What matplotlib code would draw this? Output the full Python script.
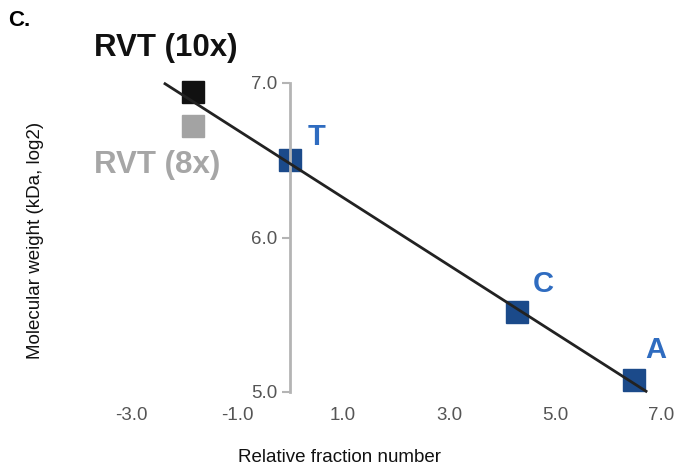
import matplotlib
matplotlib.use("Agg")
import matplotlib.pyplot as plt

plt.rcParams['font.family'] = ['Liberation Sans', 'DejaVu Sans']

# standards (blue squares)
std_names = ['T', 'C', 'A']
std_x = [0.0, 4.28, 6.49]
std_y = [6.50, 5.52, 5.08]

# RVT samples
rvt10_x, rvt10_y = -1.83, 6.94
rvt8_x, rvt8_y = -1.83, 6.72

# fitted line end points
fit_x = [-2.38, 6.74]
fit_y = [7.0, 5.0]

xticks = [-3.0, -1.0, 1.0, 3.0, 5.0, 7.0]
yticks = [5.0, 6.0, 7.0]

W, H = 678, 475
fig = plt.figure(figsize=(W / 100, H / 100), dpi=100)

# axes placed so that x=0 -> 290px, 53px per unit; y=7 -> 83px, 154.5px per unit
xlim = (-3.3, 7.3)
ylim = (4.9, 7.1)
left = 290 + 53 * xlim[0]
right = 290 + 53 * xlim[1]
top = 83 + 154.5 * (7 - ylim[1])
bottom = 83 + 154.5 * (7 - ylim[0])
ax = fig.add_axes([left / W, 1 - bottom / H, (right - left) / W, (bottom - top) / H])
ax.set_xlim(*xlim)
ax.set_ylim(*ylim)
ax.patch.set_alpha(0)

for s in ['top', 'right', 'bottom']:
    ax.spines[s].set_visible(False)
ax.spines['left'].set_position(('data', 0))
ax.spines['left'].set_bounds(5.0, 7.0)
ax.spines['left'].set_color('#b4b4b4')
ax.spines['left'].set_linewidth(2)

ax.set_yticks(yticks)
ax.set_yticklabels(['%.1f' % v for v in yticks])
ax.tick_params(axis='y', direction='out', length=6, width=1.5, color='#b4b4b4',
               labelsize=13.5, labelcolor='#555555', pad=3)
ax.set_xticks(xticks)
ax.set_xticklabels(['%.1f' % v for v in xticks])
ax.tick_params(axis='x', length=0, labelsize=13.5, labelcolor='#555555', pad=0)

# squares
ax.plot(std_x, std_y, 's', ms=16, color='#1b4a8a', zorder=2)
ax.plot([rvt10_x], [rvt10_y], 's', ms=16, color='#111111', zorder=2)
ax.plot([rvt8_x], [rvt8_y], 's', ms=16, color='#a3a3a3', zorder=2)

# fit line
ax.plot(fit_x, fit_y, '-', color='#222222', lw=2, zorder=3, solid_capstyle='butt')

# standard labels
offsets = {'T': (0.5, 0.15), 'C': (0.5, 0.18), 'A': (0.42, 0.19)}
for n, x, y in zip(std_names, std_x, std_y):
    dx, dy = offsets[n]
    ax.text(x + dx, y + dy, n, color='#2f6cc0', fontsize=21, fontweight='bold',
            ha='center', va='center', clip_on=False)

fig.text(8 / W, 1 - 20 / H, 'C.', fontsize=16, fontweight='bold', va='center', ha='left')
fig.text(94 / W, 1 - 48 / H, 'RVT (10x)', fontsize=22.5, fontweight='bold',
         color='#111111', va='center', ha='left')
fig.text(94 / W, 1 - 165 / H, 'RVT (8x)', fontsize=22.5, fontweight='bold',
         color='#a6a6a6', va='center', ha='left')

fig.text(36 / W, 1 - 240 / H, 'Molecular weight (kDa, log2)', rotation=90,
         fontsize=13.5, va='center', ha='center', color='#111111')
fig.text(339 / W, 1 - 457 / H, 'Relative fraction number', fontsize=13.5,
         va='center', ha='center', color='#111111')

fig.savefig('out.png', dpi=100)
